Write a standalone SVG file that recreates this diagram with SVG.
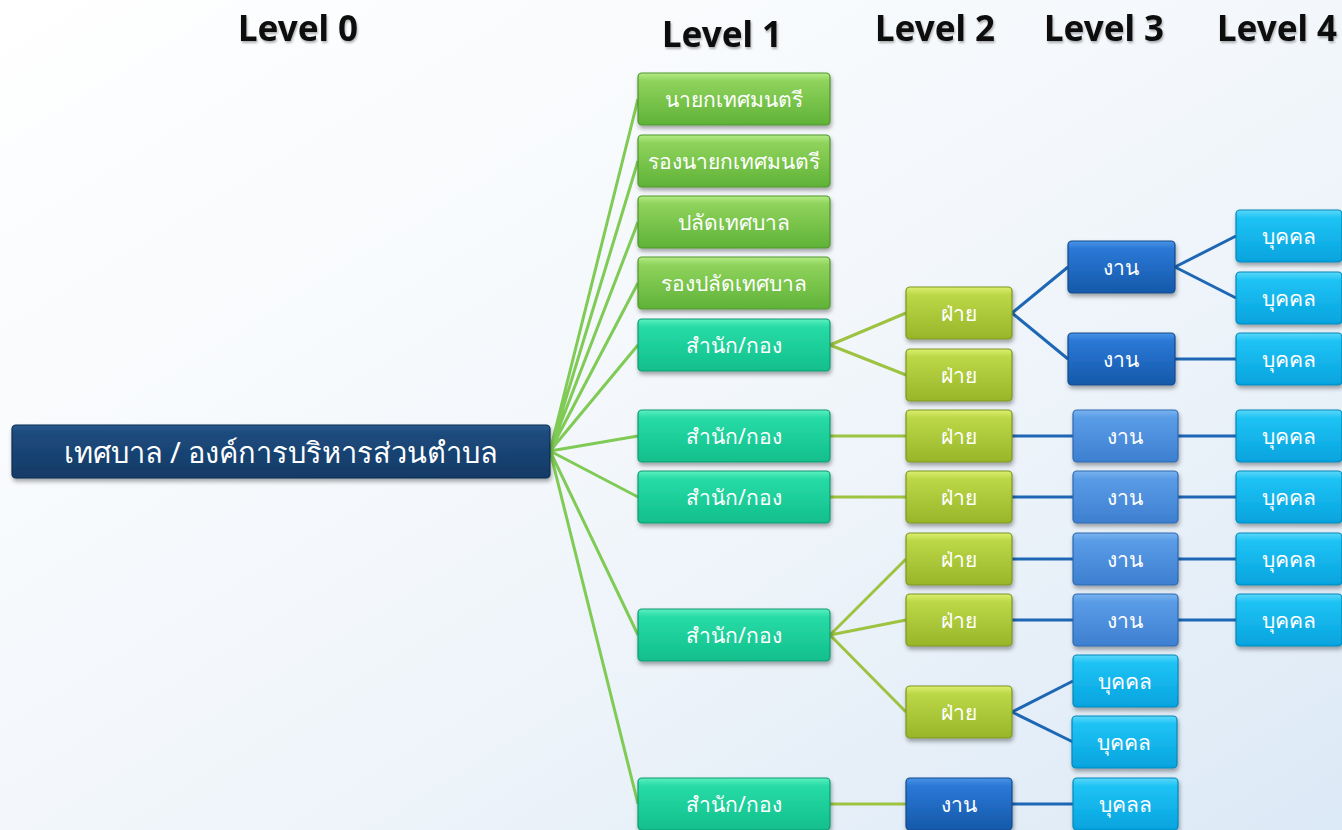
<svg xmlns="http://www.w3.org/2000/svg" width="1342" height="830" viewBox="0 0 1342 830">
<defs>
<linearGradient id="bg" x1="0" y1="0" x2="1" y2="1"><stop offset="0" stop-color="#ffffff"/><stop offset="0.5" stop-color="#f3f7fb"/><stop offset="1" stop-color="#dce9f6"/></linearGradient>
<linearGradient id="gNavy" x1="0" y1="0" x2="0" y2="1"><stop offset="0" stop-color="#2a5a8e"/><stop offset="0.15" stop-color="#1d4b7d"/><stop offset="1" stop-color="#123a66"/></linearGradient>
<linearGradient id="gGreen" x1="0" y1="0" x2="0" y2="1"><stop offset="0" stop-color="#b4ec86"/><stop offset="0.15" stop-color="#8fd35c"/><stop offset="1" stop-color="#5fb237"/></linearGradient>
<linearGradient id="gTeal" x1="0" y1="0" x2="0" y2="1"><stop offset="0" stop-color="#5cf0c0"/><stop offset="0.15" stop-color="#27dba6"/><stop offset="1" stop-color="#11bf8c"/></linearGradient>
<linearGradient id="gLime" x1="0" y1="0" x2="0" y2="1"><stop offset="0" stop-color="#dcef70"/><stop offset="0.15" stop-color="#bcd847"/><stop offset="1" stop-color="#98b52a"/></linearGradient>
<linearGradient id="gDark" x1="0" y1="0" x2="0" y2="1"><stop offset="0" stop-color="#4a94e6"/><stop offset="0.15" stop-color="#2a78d6"/><stop offset="1" stop-color="#1559aa"/></linearGradient>
<linearGradient id="gLight" x1="0" y1="0" x2="0" y2="1"><stop offset="0" stop-color="#7ab4f0"/><stop offset="0.15" stop-color="#5a9ce6"/><stop offset="1" stop-color="#3d7fd0"/></linearGradient>
<linearGradient id="gCyan" x1="0" y1="0" x2="0" y2="1"><stop offset="0" stop-color="#5cd8fa"/><stop offset="0.15" stop-color="#1fc3f4"/><stop offset="1" stop-color="#05a3de"/></linearGradient>
<filter id="sh" x="-10%" y="-20%" width="120%" height="150%"><feDropShadow dx="1" dy="3" stdDeviation="2" flood-color="#000" flood-opacity="0.35"/></filter>
<filter id="tsh" x="-10%" y="-20%" width="120%" height="150%"><feDropShadow dx="1" dy="2" stdDeviation="1" flood-color="#000" flood-opacity="0.3"/></filter>
</defs>
<style>
.b{filter:url(#sh);stroke-width:1.2}
.navy{fill:url(#gNavy);stroke:#0d2c50}
.green{fill:url(#gGreen);stroke:#4e962c}
.teal{fill:url(#gTeal);stroke:#0e9a70}
.lime{fill:url(#gLime);stroke:#7d9620}
.dark{fill:url(#gDark);stroke:#114a8e}
.light{fill:url(#gLight);stroke:#2e68b0}
.cyan{fill:url(#gCyan);stroke:#0688ba}
.t{font-family:"Noto Sans","DejaVu Sans",sans-serif;font-size:21px;fill:#ffffff;text-anchor:middle;dominant-baseline:central}
.t0{font-size:29px}
.h{font-family:"Noto Sans","DejaVu Sans",sans-serif;font-size:35px;font-weight:bold;fill:#111;text-anchor:middle;dominant-baseline:central;filter:url(#tsh)}
.cg{stroke:#7fcb55;stroke-width:3;fill:none}
.cy{stroke:#9dc341;stroke-width:3;fill:none}
.cb{stroke:#1d67b5;stroke-width:3;fill:none}
</style>
<rect x="0" y="0" width="1342" height="830" fill="url(#bg)"/>
<g id="headers">
<text class="h" x="298" y="27">Level 0</text>
<text class="h" x="722" y="33">Level 1</text>
<text class="h" x="935" y="27">Level 2</text>
<text class="h" x="1104" y="27">Level 3</text>
<text class="h" x="1277" y="27">Level 4</text>
</g>
<g id="connectors">
<path class="cg" d="M550 451L638 99M550 451L638 161M550 451L638 222M550 451L638 283M550 451L638 345M550 451L638 436M550 451L638 497M550 451L638 635M550 451L638 804"/>
<path class="cy" d="M830 345L906 313M830 345L906 375M830 436L906 436M830 497L906 497M830 635L906 559M830 635L906 620M830 635L906 712M830 804L906 804"/>
<path class="cb" d="M1012 313L1068 267M1012 313L1068 359M1175 267L1236 236M1175 267L1236 298M1175 359L1236 359M1012 436L1073 436M1178 436L1236 436M1012 497L1073 497M1178 497L1236 497M1012 559L1073 559M1178 559L1236 559M1012 620L1073 620M1178 620L1236 620M1012 712L1073 681M1012 712L1073 742M1012 804L1073 804"/>
</g>
<g id="n0"><rect class="b navy" x="12" y="425" width="538" height="53" rx="4"/><text class="t t0" x="281" y="451">เทศบาล / องค์การบริหารส่วนตำบล</text></g>
<g id="n1a"><rect class="b green" x="638" y="73" width="192" height="52" rx="4"/><text class="t" x="734" y="99">นายกเทศมนตรี</text></g>
<g id="n1b"><rect class="b green" x="638" y="135" width="192" height="52" rx="4"/><text class="t" x="734" y="161">รองนายกเทศมนตรี</text></g>
<g id="n1c"><rect class="b green" x="638" y="196" width="192" height="52" rx="4"/><text class="t" x="734" y="222">ปลัดเทศบาล</text></g>
<g id="n1d"><rect class="b green" x="638" y="257" width="192" height="52" rx="4"/><text class="t" x="734" y="283">รองปลัดเทศบาล</text></g>
<g id="n1e"><rect class="b teal" x="638" y="319" width="192" height="52" rx="4"/><text class="t" x="734" y="345">สำนัก/กอง</text></g>
<g id="n1f"><rect class="b teal" x="638" y="410" width="192" height="52" rx="4"/><text class="t" x="734" y="436">สำนัก/กอง</text></g>
<g id="n1g"><rect class="b teal" x="638" y="471" width="192" height="52" rx="4"/><text class="t" x="734" y="497">สำนัก/กอง</text></g>
<g id="n1h"><rect class="b teal" x="638" y="609" width="192" height="52" rx="4"/><text class="t" x="734" y="635">สำนัก/กอง</text></g>
<g id="n1i"><rect class="b teal" x="638" y="778" width="192" height="52" rx="4"/><text class="t" x="734" y="804">สำนัก/กอง</text></g>
<g id="n2a"><rect class="b lime" x="906" y="287" width="106" height="52" rx="4"/><text class="t" x="959" y="313">ฝ่าย</text></g>
<g id="n2b"><rect class="b lime" x="906" y="349" width="106" height="52" rx="4"/><text class="t" x="959" y="375">ฝ่าย</text></g>
<g id="n2c"><rect class="b lime" x="906" y="410" width="106" height="52" rx="4"/><text class="t" x="959" y="436">ฝ่าย</text></g>
<g id="n2d"><rect class="b lime" x="906" y="471" width="106" height="52" rx="4"/><text class="t" x="959" y="497">ฝ่าย</text></g>
<g id="n2e"><rect class="b lime" x="906" y="533" width="106" height="52" rx="4"/><text class="t" x="959" y="559">ฝ่าย</text></g>
<g id="n2f"><rect class="b lime" x="906" y="594" width="106" height="52" rx="4"/><text class="t" x="959" y="620">ฝ่าย</text></g>
<g id="n2g"><rect class="b lime" x="906" y="686" width="106" height="52" rx="4"/><text class="t" x="959" y="712">ฝ่าย</text></g>
<g id="n2h"><rect class="b dark" x="906" y="778" width="106" height="52" rx="4"/><text class="t" x="959" y="804">งาน</text></g>
<g id="n3a"><rect class="b dark" x="1068" y="241" width="107" height="52" rx="4"/><text class="t" x="1121" y="267">งาน</text></g>
<g id="n3b"><rect class="b dark" x="1068" y="333" width="107" height="52" rx="4"/><text class="t" x="1121" y="359">งาน</text></g>
<g id="n3c"><rect class="b light" x="1073" y="410" width="105" height="52" rx="4"/><text class="t" x="1125" y="436">งาน</text></g>
<g id="n3d"><rect class="b light" x="1073" y="471" width="105" height="52" rx="4"/><text class="t" x="1125" y="497">งาน</text></g>
<g id="n3e"><rect class="b light" x="1073" y="533" width="105" height="52" rx="4"/><text class="t" x="1125" y="559">งาน</text></g>
<g id="n3f"><rect class="b light" x="1073" y="594" width="105" height="52" rx="4"/><text class="t" x="1125" y="620">งาน</text></g>
<g id="n3g"><rect class="b cyan" x="1073" y="655" width="105" height="52" rx="4"/><text class="t" x="1125" y="681">บุคคล</text></g>
<g id="n3h"><rect class="b cyan" x="1072" y="716" width="105" height="52" rx="4"/><text class="t" x="1124" y="742">บุคคล</text></g>
<g id="n3i"><rect class="b cyan" x="1073" y="778" width="105" height="52" rx="4"/><text class="t" x="1125" y="804">บุคลล</text></g>
<g id="n4a"><rect class="b cyan" x="1236" y="210" width="106" height="52" rx="4"/><text class="t" x="1289" y="236">บุคคล</text></g>
<g id="n4b"><rect class="b cyan" x="1236" y="272" width="106" height="52" rx="4"/><text class="t" x="1289" y="298">บุคคล</text></g>
<g id="n4c"><rect class="b cyan" x="1236" y="333" width="106" height="52" rx="4"/><text class="t" x="1289" y="359">บุคคล</text></g>
<g id="n4d"><rect class="b cyan" x="1236" y="410" width="106" height="52" rx="4"/><text class="t" x="1289" y="436">บุคคล</text></g>
<g id="n4e"><rect class="b cyan" x="1236" y="471" width="106" height="52" rx="4"/><text class="t" x="1289" y="497">บุคคล</text></g>
<g id="n4f"><rect class="b cyan" x="1236" y="533" width="106" height="52" rx="4"/><text class="t" x="1289" y="559">บุคคล</text></g>
<g id="n4g"><rect class="b cyan" x="1236" y="594" width="106" height="52" rx="4"/><text class="t" x="1289" y="620">บุคคล</text></g>
</svg>
